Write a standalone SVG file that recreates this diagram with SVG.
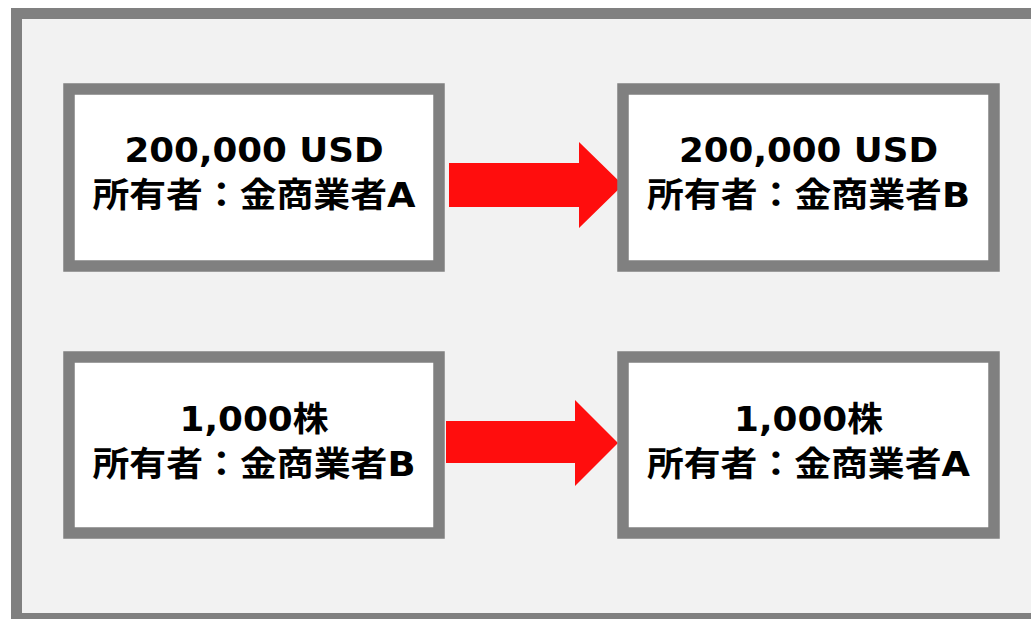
<svg xmlns="http://www.w3.org/2000/svg" width="1031" height="619" viewBox="0 0 1031 619">
<style>
.frame{fill:#f2f2f2;stroke:#808080;stroke-width:11}
.box{fill:#ffffff;stroke:#808080;stroke-width:11.5}
.arrow{fill:#ff0d0d}
.t{font-family:"DejaVu Sans","Noto Sans CJK JP",sans-serif;font-weight:bold;font-size:34px;fill:#000000;text-anchor:middle}
</style>
<rect width="1031" height="619" fill="#ffffff"/>
<rect class="frame" x="16.5" y="13.5" width="1030" height="605"/>
<g id="connectors">
<polygon class="arrow" points="449,163 579,163 579,142 623,185 579,228 579,207 449,207"/>
<polygon class="arrow" points="446,421 575,421 575,400 618,443 575,486 575,463 446,463"/>
</g>
<g id="node-usd-a">
<rect class="box" x="69" y="89" width="370" height="177"/>
<text class="t" x="254" y="162" textLength="259" lengthAdjust="spacingAndGlyphs">200,000 USD</text>
<text class="t" x="254" y="207" textLength="323" lengthAdjust="spacingAndGlyphs">所有者：金商業者A</text>
</g>
<g id="node-usd-b">
<rect class="box" x="623" y="89" width="371" height="177"/>
<text class="t" x="808.5" y="162" textLength="259" lengthAdjust="spacingAndGlyphs">200,000 USD</text>
<text class="t" x="808.5" y="207" textLength="323" lengthAdjust="spacingAndGlyphs">所有者：金商業者B</text>
</g>
<g id="node-stock-b">
<rect class="box" x="69" y="357" width="370" height="176"/>
<text class="t" x="254" y="431" textLength="149" lengthAdjust="spacingAndGlyphs">1,000株</text>
<text class="t" x="254" y="476" textLength="323" lengthAdjust="spacingAndGlyphs">所有者：金商業者B</text>
</g>
<g id="node-stock-a">
<rect class="box" x="623" y="357" width="371" height="176"/>
<text class="t" x="808.5" y="431" textLength="149" lengthAdjust="spacingAndGlyphs">1,000株</text>
<text class="t" x="808.5" y="476" textLength="323" lengthAdjust="spacingAndGlyphs">所有者：金商業者A</text>
</g>
</svg>
